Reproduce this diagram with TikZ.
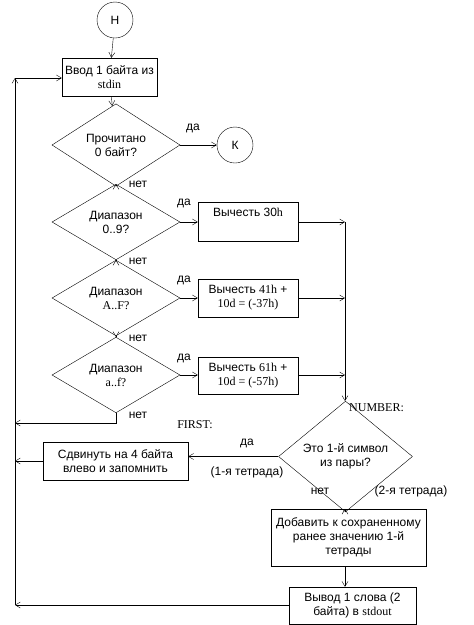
\documentclass[tikz,border=0pt]{standalone}
\usepackage{fontspec}
\setmainfont{Liberation Sans}
\newfontfamily\tms{Liberation Serif}
\usetikzlibrary{shapes.geometric,arrows.meta}
\begin{document}
\begin{tikzpicture}[x=1pt,y=-1pt,
  every node/.style={font=\fontsize{12}{14}\selectfont},
  box/.style={draw, rectangle, inner sep=0pt, align=center},
  dec/.style={draw, diamond, inner sep=0pt, align=center, minimum width=128pt, minimum height=57pt},
  term/.style={draw, circle, minimum size=36pt, inner sep=0pt},
  arr/.style={-{Straight Barb[length=5pt,width=6pt]}},
  lbl/.style={inner sep=0pt}]
\useasboundingbox[fill=white] (0,0) rectangle (474,625);
% nodes
\node[term] (H) at (115,20) {Н};
\node[box, minimum width=95pt, minimum height=38pt] (in) at (109.5,77) {Ввод 1 байта из\\{\tms stdin}};
\node[dec] (d1) at (116,145) {Прочитано\\0 байт?};
\node[term] (K) at (235,145) {К};
\node[dec] (d2) at (116,222) {Диапазон\\0..9?};
\node[dec] (d3) at (116,298) {Диапазон\\{\tms A..F?}};
\node[dec] (d4) at (116,375) {Диапазон\\{\tms a..f?}};
\node[box, minimum width=100pt, minimum height=39pt] (s1) at (248,221.5) {Вычесть 30{\tms h}\\ \strut};
\node[box, minimum width=100pt, minimum height=38pt] (s2) at (248,298) {Вычесть {\tms 41h} +\\{\tms 10d = (-37h)}};
\node[box, minimum width=100pt, minimum height=37pt] (s3) at (248,375.5) {Вычесть {\tms 61h} +\\{\tms 10d = (-57h)}};
\node[dec, minimum width=134pt, minimum height=67pt] (d5) at (345.5,456.5) {Это 1-й символ\\из пары?};
\node[box, minimum width=145pt, minimum height=38pt] (sh) at (115.5,461) {Сдвинуть на 4 байта\\влево и запомнить};
\node[box, minimum width=155pt, minimum height=57pt] (add) at (348.5,537.5) {Добавить к сохраненному\\ранее значению 1-й\\тетрады};
\node[box, minimum width=127pt, minimum height=37pt] (out) at (352.5,605.5) {Вывод 1 слова (2\\байта) в {\tms stdout}};
% coordinates
\coordinate (n1) at (345,222);
\coordinate (n2) at (345,298);
\coordinate (n3) at (345,375);
\coordinate (c4) at (116,423);
\coordinate (L0) at (15,78);
\coordinate (L1) at (15,423);
\coordinate (L2) at (15,461);
\coordinate (L3) at (15,605);
% connectors
\draw[arr] (H) -- (in);
\draw[arr] (in) -- (d1);
\draw[arr] (d1) -- (K);
\draw[arr] (d1) -- (d2);
\draw[arr] (d2) -- (d3);
\draw[arr] (d3) -- (d4);
\draw[arr] (d2.east) -- (s1.west |- d2.east);
\draw[arr] (d3.east) -- (s2.west |- d3.east);
\draw[arr] (d4.east) -- (s3.west |- d4.east);
\draw[arr] (s1.east |- n1) -- (n1);
\draw[arr] (s2.east |- n2) -- (n2);
\draw[arr] (s3.east |- n3) -- (n3);
\draw[arr] (n1) -- (d5.north -| n1);
\draw[arr] (d4.south) -- (c4) -- (L1);
\draw[arr] (d5.west) -- (d5.west -| sh.east);
\draw[arr] (sh.west |- L2) -- (L2);
\draw[arr] (d5.south -| n1) -- (add.north -| n1);
\draw[arr] (add.south -| n1) -- (out.north -| n1);
\draw[arr] (out.west |- L3) -- (L3);
\draw[arr] (L3) -- (L0);
\draw[arr] (L0) -- (in.west |- L0);
% labels
\node[lbl] (l1) at (193,128) {да};
\node[lbl] (l2) at (138,184) {нет};
\node[lbl] (l3) at (184,203) {да};
\node[lbl] (l4) at (138,261) {нет};
\node[lbl] (l5) at (184,280) {да};
\node[lbl] (l6) at (138,338) {нет};
\node[lbl] (l7) at (184,358) {да};
\node[lbl] (l8) at (138,415) {нет};
\node[lbl, anchor=west] (l9) at (349,408) {\tms NUMBER:};
\node[lbl] (l10) at (195,425) {\tms FIRST:};
\node[lbl] (l11) at (247,443) {да};
\node[lbl] (l12) at (247,472) {(1-я тетрада)};
\node[lbl] (l13) at (320,491) {нет};
\node[lbl] (l14) at (411,491) {(2-я тетрада)};
\end{tikzpicture}
\end{document}
